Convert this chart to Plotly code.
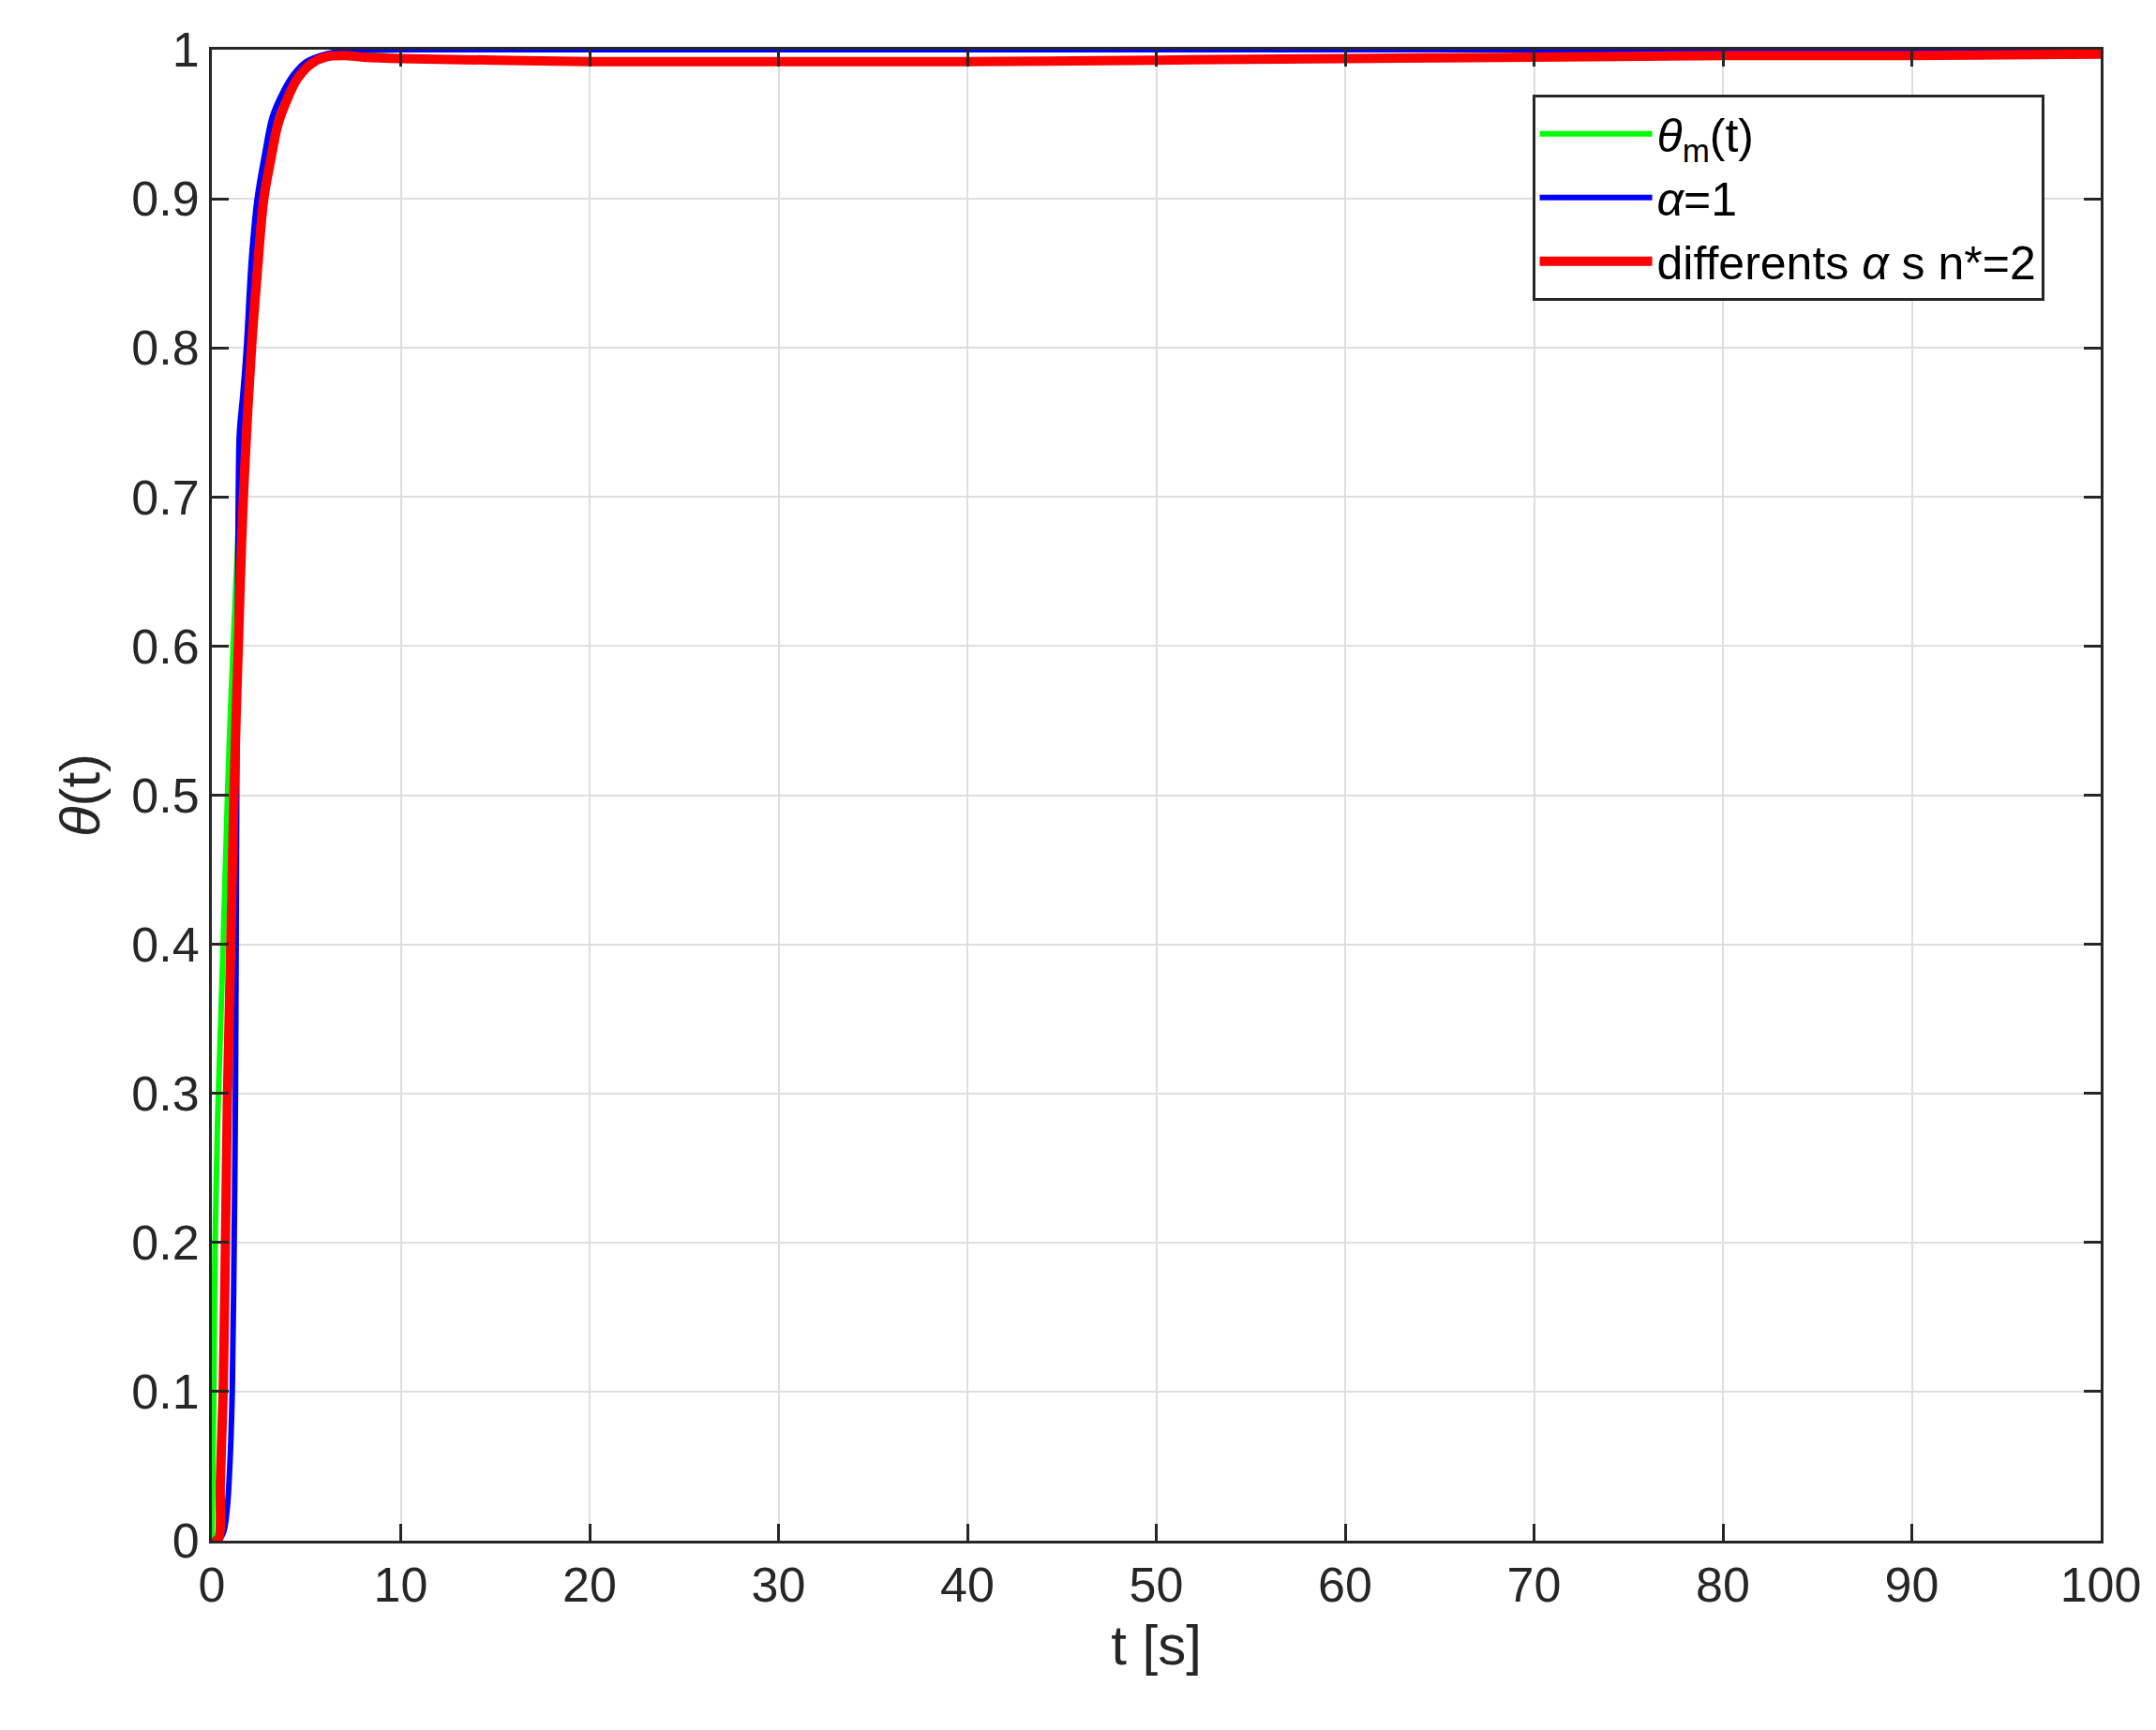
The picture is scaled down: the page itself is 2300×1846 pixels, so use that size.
import plotly.graph_objects as go

t_green = [0, 0.05, 0.1, 0.17, 0.3, 0.45, 0.6, 0.83, 1.0, 1.3, 1.6, 2.0, 2.4, 2.8, 3.2, 3.7, 4.3, 5.0, 6.0, 7.0, 8.0, 10, 20, 50, 100]
y_green = [0, 0.05, 0.1, 0.2, 0.28, 0.34, 0.4, 0.5, 0.56, 0.65, 0.73, 0.8, 0.87, 0.91, 0.94, 0.965, 0.98, 0.99, 0.996, 0.998, 0.999, 1.0, 1.0, 1.0, 1.0]

t_blue = [0, 0.3, 0.6, 0.8, 0.95, 1.08, 1.18, 1.25, 1.3, 1.35, 1.4, 1.45, 1.5, 1.65, 1.83, 2.1, 2.4, 2.8, 3.2, 3.7, 4.3, 5.0, 6.0, 7.0, 10, 20, 50, 100]
y_blue = [0, 0, 0.005, 0.02, 0.05, 0.1, 0.2, 0.3, 0.45, 0.6, 0.7, 0.74, 0.75, 0.77, 0.8, 0.86, 0.9, 0.93, 0.955, 0.97, 0.983, 0.992, 0.997, 0.999, 1.0, 1.0, 1.0, 1.0]

t_red = [0, 0.3, 0.45, 0.6, 0.72, 0.83, 1.0, 1.17, 1.4, 1.67, 2.1, 2.4, 2.75, 3.1, 3.5, 4.0, 4.5, 5.2, 6.0, 7.0, 8.0, 10, 15, 20, 30, 40, 50, 60, 70, 80, 90, 100]
y_red = [0, 0, 0.04, 0.1, 0.2, 0.3, 0.4, 0.5, 0.6, 0.7, 0.8, 0.85, 0.9, 0.925, 0.95, 0.967, 0.98, 0.99, 0.995, 0.996, 0.995, 0.994, 0.993, 0.992, 0.992, 0.992, 0.993, 0.994, 0.995, 0.996, 0.996, 0.997]

x_ticks = [0, 10, 20, 30, 40, 50, 60, 70, 80, 90, 100]
y_ticks = [0, 0.1, 0.2, 0.3, 0.4, 0.5, 0.6, 0.7, 0.8, 0.9, 1]
y_labels = ["0", "0.1", "0.2", "0.3", "0.4", "0.5", "0.6", "0.7", "0.8", "0.9", "1"]

fig = go.Figure()
fig.add_trace(go.Scatter(x=t_green, y=y_green, mode="lines", line=dict(color="#00ff00", width=6, shape="spline"),
                         name="<i>θ</i><sub>m</sub>(t)"))
fig.add_trace(go.Scatter(x=t_blue, y=y_blue, mode="lines", line=dict(color="#0000ff", width=6, shape="spline"),
                         name="<i>α</i>=1"))
fig.add_trace(go.Scatter(x=t_red, y=y_red, mode="lines", line=dict(color="#ff0000", width=10, shape="spline"),
                         name="differents <i>α</i> s n*=2"))

axis_common = dict(showline=True, linecolor="#262626", linewidth=3, mirror="ticks", ticks="inside",
                   ticklen=18, tickwidth=3, tickcolor="#262626", showgrid=True, gridcolor="#dedede", gridwidth=2,
                   zeroline=False, tickfont=dict(size=52, color="#262626"))
fig.update_xaxes(range=[0, 100], tickvals=x_ticks, title=dict(text="t [s]", font=dict(size=60, color="#262626"), standoff=15), **axis_common)
fig.update_yaxes(range=[0, 1], tickvals=y_ticks, ticktext=y_labels,
                 title=dict(text="<i>θ</i>(t)", font=dict(size=60, color="#262626"), standoff=15), **axis_common)

fig.update_layout(width=2300, height=1846, paper_bgcolor="white", plot_bgcolor="white",
                  font=dict(family="Liberation Sans, Arial", color="#262626"),
                  margin=dict(l=218, r=67, t=45, b=210),
                  legend=dict(x=0.97, y=0.97, xanchor="right", yanchor="top", bgcolor="white",
                              bordercolor="#262626", borderwidth=3, font=dict(size=50, color="#000000"),
                              itemwidth=120, tracegroupgap=15))
fig.write_html("out.html")
